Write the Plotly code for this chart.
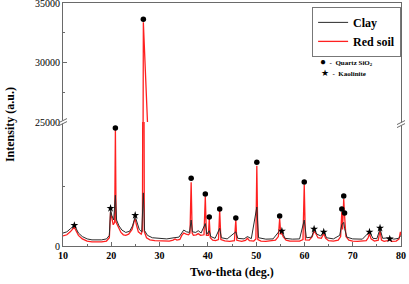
import plotly.graph_objects as go

# ---- data ----
red_x = [10.0, 10.8, 11.5, 12.0, 12.35, 12.7, 13.2, 14.0, 15.0, 16.0, 17.0, 18.0, 19.0, 19.6, 19.85, 20.1, 20.4, 20.7,
         20.85, 21.0, 21.5, 22.0, 22.5, 23.0, 23.6, 24.3, 24.75, 24.95, 25.2, 25.6, 26.2, 26.45, 26.64, 26.85, 27.3,
         28.0, 29.0, 30.0, 31.0, 32.0, 32.8, 33.2, 33.6, 34.2, 34.6, 35.0, 35.5, 36.0, 36.3, 36.54, 36.75, 37.0, 37.6,
         38.0, 38.5, 39.2, 39.47, 39.7, 40.1, 40.29, 40.5, 41.0, 41.6, 42.2, 42.45, 42.7, 43.5, 44.5, 45.5, 45.79,
         46.0, 47.0, 47.8, 48.2, 48.6, 49.5, 49.95, 50.14, 50.35, 51.0, 52.0, 53.0, 54.0, 54.6, 54.87, 55.1, 55.33,
         55.6, 56.2, 57.0, 58.0, 59.0, 59.7, 59.96, 60.2, 61.0, 61.6, 62.0, 62.3, 62.8, 63.5, 64.0, 64.4, 65.0, 66.0,
         67.0, 67.5, 67.74, 67.9, 68.14, 68.31, 68.6, 69.2, 70.0, 71.0, 72.0, 72.8, 73.2, 73.47, 73.8, 74.5, 75.3,
         75.66, 75.95, 76.5, 77.2, 77.67, 78.0, 79.0, 79.6, 79.88, 80.0]
red_y = [850, 950, 1200, 1450, 1600, 1300, 900, 600, 420, 350, 330, 350, 420, 700, 2900, 2300, 1800, 2000,
         9900, 2000, 1500, 1150, 950, 900, 1000, 1400, 2100, 2300, 1800, 1200, 1000, 1300, 33400, 1200, 700,
         520, 450, 420, 400, 420, 500, 600, 500, 550, 900, 1100, 1000, 950, 1100, 5400, 1100, 900, 950,
         1050, 900, 950, 4200, 900, 900, 2300, 700, 500, 450, 550, 3000, 550, 430, 400, 450, 2200,
         480, 400, 480, 650, 450, 420, 600, 6800, 550, 420, 400, 420, 500, 800, 2300, 1000, 1100,
         800, 500, 420, 400, 420, 550, 5200, 520, 500, 800, 1250, 1100, 700, 650, 1050, 650, 450, 420,
         500, 800, 2900, 1400, 4000, 2600, 800, 500, 420, 400, 420, 450, 700, 1050, 600, 420, 500,
         1350, 500, 400, 450, 520, 400, 420, 600, 1200, 900]

clay_x = [10.0, 10.8, 11.5, 12.0, 12.35, 12.7, 13.2, 14.0, 15.0, 16.0, 17.0, 18.0, 19.0, 19.6, 19.85, 20.1, 20.5,
          20.85, 21.1, 21.6, 22.2, 23.0, 23.8, 24.4, 24.95, 25.3, 25.8, 26.3, 26.64, 26.9, 27.5, 28.5, 30.0, 31.5,
          33.0, 34.0, 34.6, 35.0, 35.6, 36.2, 36.54, 36.8, 37.5, 38.0, 38.6, 39.47, 39.8, 40.29, 40.6, 41.5, 42.45,
          42.8, 44.0, 45.79, 46.2, 47.5, 48.2, 49.0, 50.14, 50.5, 52.0, 53.5, 54.87, 55.33, 56.0, 57.5, 59.0,
          59.96, 60.4, 61.5, 62.0, 62.6, 63.4, 64.0, 64.6, 66.0, 67.3, 67.74, 68.14, 68.31, 68.8, 70.0, 72.0,
          73.47, 74.2, 75.0, 75.66, 76.2, 77.67, 78.5, 79.5, 80.0]
clay_y = [1100, 1200, 1450, 1650, 1750, 1500, 1100, 800, 600, 520, 500, 520, 600, 900, 3100, 2600, 2200,
          4300, 2200, 1700, 1350, 1150, 1250, 1700, 2500, 2000, 1400, 1200, 4500, 1300, 900, 700, 620, 600,
          700, 750, 1100, 1350, 1200, 1150, 2200, 1200, 1150, 1300, 1100, 1900, 1000, 1300, 800, 650, 1500,
          700, 600, 1200, 650, 600, 800, 620, 3300, 700, 580, 600, 1300, 1200, 650, 580, 600,
          2200, 700, 750, 1400, 1000, 850, 1200, 700, 600, 900, 1800, 2000, 1500, 750, 600, 580,
          1200, 650, 620, 1450, 650, 700, 580, 650, 900]

quartz_x = [20.85, 26.64, 36.54, 39.47, 40.29, 42.45, 45.79, 50.14, 54.87, 59.96, 67.74, 68.14, 68.31]
quartz_y = [10000, 33650, 5750, 4400, 2450, 3130, 2370, 7100, 2540, 5420, 3130, 4240, 2800]

kaol_x = [12.35, 19.85, 24.95, 55.33, 62.0, 64.0, 73.47, 75.66, 77.67]
kaol_y = [1750, 3200, 2600, 1270, 1440, 1190, 1190, 1520, 600]

x_ticks = [10, 20, 30, 40, 50, 60, 70, 80]
y_low_ticks = [0]
y_up_ticks = [25000, 30000, 35000]

SERIF = "Liberation Serif"
BRK = 0.51

fig = go.Figure()
for ax_x, ax_y, show in [("x", "y", True), ("x2", "y2", False)]:
    fig.add_trace(go.Scatter(x=red_x, y=red_y, mode="lines", name="Red soil",
                             line=dict(color="#ff2020", width=1.3), xaxis=ax_x, yaxis=ax_y,
                             showlegend=show, legendrank=2))
    fig.add_trace(go.Scatter(x=clay_x, y=clay_y, mode="lines", name="Clay",
                             line=dict(color="#2a2a2a", width=1), xaxis=ax_x, yaxis=ax_y,
                             showlegend=show, legendrank=1))
    fig.add_trace(go.Scatter(x=quartz_x, y=quartz_y, mode="markers", showlegend=False,
                             marker=dict(symbol="circle", size=5.5, color="black"),
                             xaxis=ax_x, yaxis=ax_y, cliponaxis=True))
    fig.add_trace(go.Scatter(x=kaol_x, y=kaol_y, mode="markers", showlegend=False,
                             marker=dict(symbol="star", size=6, color="black"),
                             xaxis=ax_x, yaxis=ax_y, cliponaxis=True))

frame = "#6a6a6a"
fig.update_layout(
    width=409, height=284,
    margin=dict(l=63, r=8, t=3, b=38, autoexpand=False),
    paper_bgcolor="white", plot_bgcolor="white",
    font=dict(family=SERIF, color="black"),
    xaxis=dict(domain=[0, 1], range=[10, 80], anchor="y", tickvals=x_ticks,
               ticktext=[str(v) for v in x_ticks], automargin=False,
               ticks="inside", ticklen=4, tickcolor=frame, showgrid=False, zeroline=False,
               showline=True, linecolor=frame, linewidth=1.2, mirror=False,
               tickfont=dict(size=10, family=SERIF, weight="bold"),
               minor=dict(dtick=5, tick0=0, ticks="inside", ticklen=2, tickcolor=frame)),
    xaxis2=dict(domain=[0, 1], range=[10, 80], anchor="y2", matches="x", side="top",
                showticklabels=False, ticks="", showgrid=False, zeroline=False, automargin=False,
                showline=True, linecolor=frame, linewidth=1.2),
    yaxis=dict(domain=[0, BRK], range=[0, 10500], anchor="x", tickvals=y_low_ticks,
               ticktext=[str(v) for v in y_low_ticks], automargin=False,
               ticks="inside", ticklen=4, tickcolor=frame, showgrid=False, zeroline=False,
               showline=True, linecolor=frame, linewidth=1.2, mirror=True,
               tickfont=dict(size=10, family=SERIF),
               minor=dict(tickvals=[5000], ticks="inside", ticklen=2, tickcolor=frame)),
    yaxis2=dict(domain=[BRK, 1], range=[25000, 35020], anchor="x2", tickvals=y_up_ticks,
                ticktext=[str(v) for v in y_up_ticks], ticklabeloverflow="allow", automargin=False,
                ticks="inside", ticklen=4, tickcolor=frame, showgrid=False, zeroline=False,
                showline=True, linecolor=frame, linewidth=1.2, mirror=True,
                tickfont=dict(size=10, family=SERIF),
                minor=dict(tickvals=[27500, 32500], ticks="inside", ticklen=2, tickcolor=frame)),
    legend=dict(x=0.737, y=0.984, xanchor="left", yanchor="top",
                bordercolor="#777", borderwidth=1, bgcolor="white",
                font=dict(size=12, family=SERIF, weight="bold"),
                tracegroupgap=0, itemwidth=30),
    showlegend=True,
)

fig.add_annotation(text="<b>Intensity (a.u.)</b>", xref="paper", yref="paper", x=-0.158, y=0.5,
                   textangle=-90, showarrow=False, font=dict(size=12, family=SERIF),
                   xanchor="center", yanchor="middle")
fig.add_annotation(text="<b>Two-theta (deg.)</b>", xref="paper", yref="paper", x=0.5, y=-0.107,
                   showarrow=False, font=dict(size=12, family=SERIF), xanchor="center", yanchor="middle")
fig.add_annotation(text="<span style='font-size:10px'>●</span><b>  -  Quartz SiO<sub>2</sub></b>",
                   xref="paper", yref="paper",
                   x=0.755, y=0.758, showarrow=False, xanchor="left", yanchor="middle",
                   font=dict(size=7, family=SERIF))
fig.add_annotation(text="<span style='font-size:9px'>★</span><b>  -  Kaolinite</b>",
                   xref="paper", yref="paper",
                   x=0.757, y=0.71, showarrow=False, xanchor="left", yanchor="middle",
                   font=dict(size=7, family=SERIF))

# axis-break marks
px = 1 / 338
py = 1 / 243
for xc, yc in [(0.0, BRK), (1.0, BRK - 2 * py)]:
    fig.add_shape(type="rect", xref="paper", yref="paper", x0=xc - 3 * px, x1=xc + 3 * px,
                  y0=yc - 1.5 * py, y1=yc + 1.5 * py, fillcolor="white", line=dict(width=0))
    for d in (-1.5, 1.5):
        fig.add_shape(type="line", xref="paper", yref="paper",
                      x0=xc - 4 * px, x1=xc + 4 * px,
                      y0=yc + d * py - 2 * py, y1=yc + d * py + 2 * py,
                      line=dict(color=frame, width=1))

fig.write_html("out.html")
